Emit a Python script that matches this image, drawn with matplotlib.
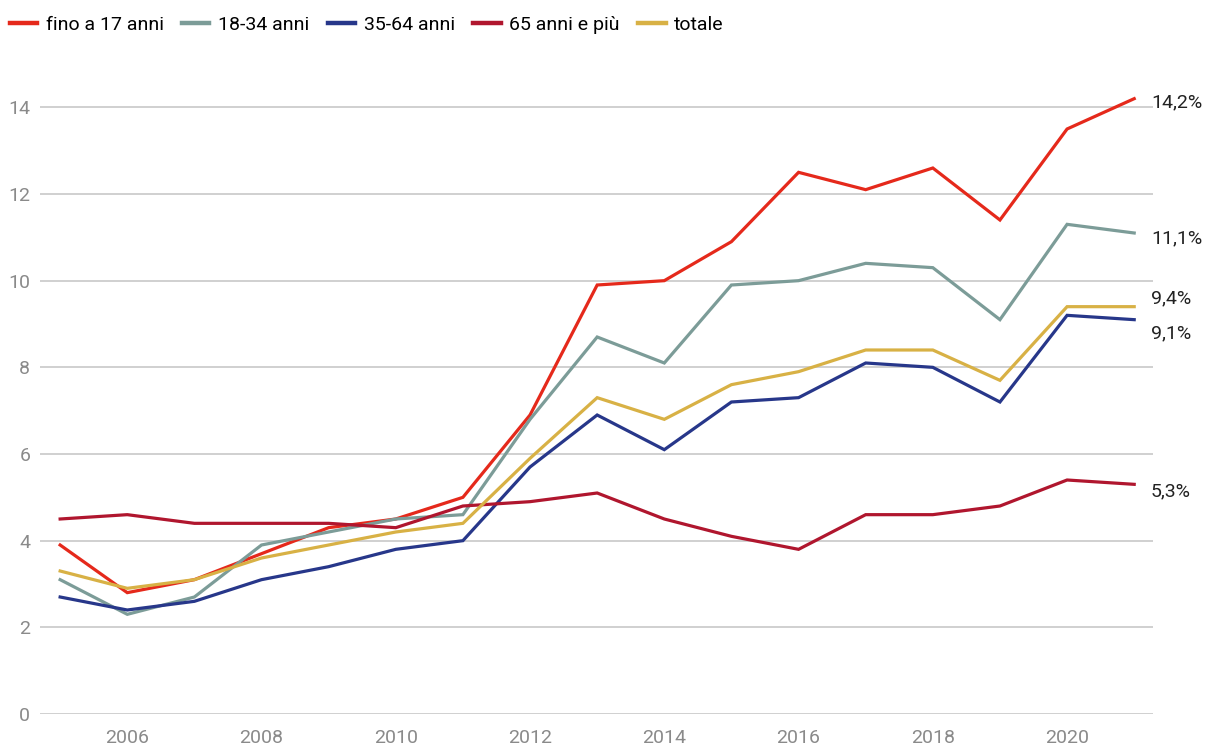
import matplotlib
matplotlib.use("Agg")
import matplotlib.pyplot as plt

plt.rcParams['font.family'] = ['Roboto', 'DejaVu Sans']

years = list(range(2005, 2022))
series_names = ["fino a 17 anni", "18-34 anni", "35-64 anni", "65 anni e più", "totale"]
fino17 = [3.9, 2.8, 3.1, 3.7, 4.3, 4.5, 5.0, 6.9, 9.9, 10.0, 10.9, 12.5, 12.1, 12.6, 11.4, 13.5, 14.2]
a18_34 = [3.1, 2.3, 2.7, 3.9, 4.2, 4.5, 4.6, 6.8, 8.7, 8.1, 9.9, 10.0, 10.4, 10.3, 9.1, 11.3, 11.1]
a35_64 = [2.7, 2.4, 2.6, 3.1, 3.4, 3.8, 4.0, 5.7, 6.9, 6.1, 7.2, 7.3, 8.1, 8.0, 7.2, 9.2, 9.1]
a65 = [4.5, 4.6, 4.4, 4.4, 4.4, 4.3, 4.8, 4.9, 5.1, 4.5, 4.1, 3.8, 4.6, 4.6, 4.8, 5.4, 5.3]
totale = [3.3, 2.9, 3.1, 3.6, 3.9, 4.2, 4.4, 5.9, 7.3, 6.8, 7.6, 7.9, 8.4, 8.4, 7.7, 9.4, 9.4]
end_labels = ["14,2%", "11,1%", "9,1%", "5,3%", "9,4%"]
yticks = [0, 2, 4, 6, 8, 10, 12, 14]
xticks = [2006, 2008, 2010, 2012, 2014, 2016, 2018, 2020]

colors = ["#e5291b", "#7c9c98", "#27378a", "#b0162e", "#d8b145"]
label_offsets = [-3, -4, -10, -5, 6]

fig = plt.figure(figsize=(12.06, 7.47), dpi=100)
ax = fig.add_axes([40/1206, 33/747, (1153-40)/1206, (714-64)/747])

all_series = [fino17, a18_34, a35_64, a65, totale]
handles = []
for name, vals, c in zip(series_names, all_series, colors):
    h, = ax.plot(years, vals, color=c, lw=2.3, solid_joinstyle='miter', zorder=3)
    handles.append(h)

for vals, lab, c, off in zip(all_series, end_labels, colors, label_offsets):
    ax.annotate(lab, xy=(years[-1], vals[-1]), xytext=(12, off), textcoords='offset points',
                ha='left', va='center', fontsize=14, color='#222222', annotation_clip=False)

ax.set_xlim(2004.7, 2021.28)
ax.set_ylim(0, 15)
ax.set_yticks(yticks)
ax.set_xticks(xticks)
ax.set_yticklabels([str(v) for v in yticks])
ax.set_xticklabels([str(v) for v in xticks])
ax.tick_params(axis='both', length=0, labelsize=14, labelcolor='#8a8a8a')
ax.tick_params(axis='y', pad=7)
ax.tick_params(axis='x', pad=11)
ax.grid(axis='y', color='#c8c8c8', lw=1.2)
ax.set_axisbelow(True)
for s in ax.spines.values():
    s.set_visible(False)

fig.legend(handles, series_names, loc='center left', bbox_to_anchor=(0.008, 1 - 25/747), ncol=5,
           frameon=False, fontsize=14, handlelength=1.4, handletextpad=0.45, columnspacing=0.95,
           borderaxespad=0.0, borderpad=0.0)
for lh in fig.legends[0].get_lines():
    lh.set_linewidth(3.2)

fig.savefig("out.png", dpi=100)
